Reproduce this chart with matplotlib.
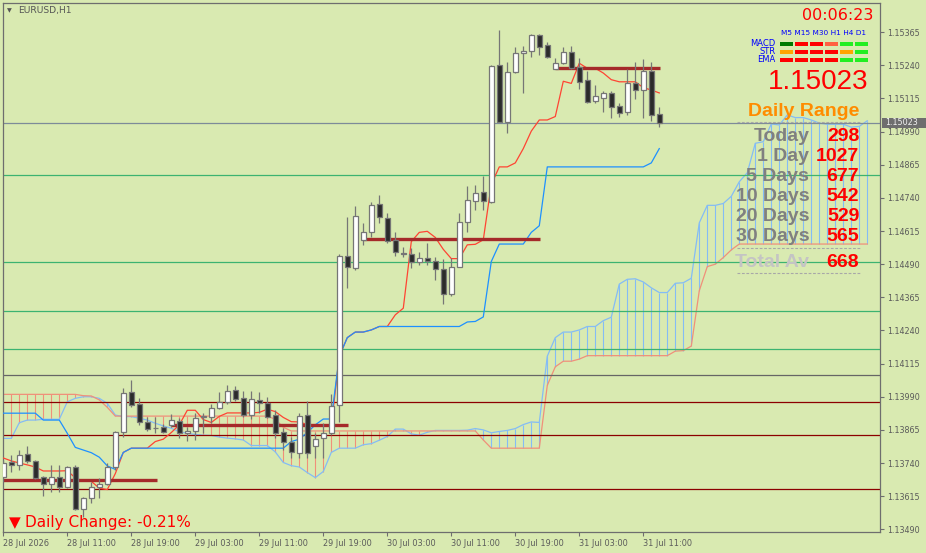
# -*- coding: utf-8 -*-
import numpy as np
import matplotlib
matplotlib.use("Agg")
import matplotlib.pyplot as plt
from matplotlib.patches import Rectangle
from matplotlib.transforms import blended_transform_factory

# ---- EURUSD H1 candles ----
opens = [1.13688, 1.13743, 1.13731, 1.13773, 1.13748, 1.13686, 1.13660, 1.13686, 1.13648, 1.13726,
         1.13565, 1.13607, 1.13651, 1.13660, 1.13724, 1.13856, 1.14007, 1.13962, 1.13894, 1.13873,
         1.13875, 1.13883, 1.13900, 1.13852, 1.13862, 1.13912, 1.13912, 1.13946, 1.13969, 1.14015,
         1.13984, 1.13920, 1.13978, 1.13968, 1.13921, 1.13856, 1.13820, 1.13779, 1.13920, 1.13805,
         1.13833, 1.13852, 1.13958, 1.14520, 1.14475, 1.14581, 1.14610, 1.14717, 1.14663, 1.14580,
         1.14532, 1.14528, 1.14499, 1.14512, 1.14502, 1.14471, 1.14376, 1.14481, 1.14648, 1.14730,
         1.14761, 1.14726, 1.15240, 1.15028, 1.15214, 1.15286, 1.15295, 1.15353, 1.15316, 1.15227,
         1.15248, 1.15289, 1.15235, 1.15184, 1.15104, 1.15118, 1.15135, 1.15087, 1.15065, 1.15173,
         1.15146, 1.15218, 1.15055]
highs = [1.13751, 1.13770, 1.13789, 1.13804, 1.13751, 1.13691, 1.13733, 1.13733, 1.13729, 1.13731,
         1.13613, 1.13670, 1.13685, 1.13741, 1.13862, 1.14022, 1.14053, 1.13984, 1.13915, 1.13915,
         1.13886, 1.13924, 1.13909, 1.13877, 1.13928, 1.13930, 1.13962, 1.14007, 1.14034, 1.14031,
         1.14012, 1.14012, 1.14008, 1.13990, 1.13940, 1.13871, 1.13839, 1.13928, 1.13974, 1.13852,
         1.13890, 1.13999, 1.14528, 1.14667, 1.14710, 1.14644, 1.14726, 1.14751, 1.14682, 1.14610,
         1.14556, 1.14550, 1.14537, 1.14569, 1.14516, 1.14511, 1.14514, 1.14682, 1.14785, 1.14789,
         1.14823, 1.15241, 1.15373, 1.15254, 1.15308, 1.15313, 1.15358, 1.15358, 1.15328, 1.15267,
         1.15308, 1.15313, 1.15269, 1.15219, 1.15166, 1.15143, 1.15143, 1.15097, 1.15227, 1.15253,
         1.15263, 1.15253, 1.15082]
lows = [1.13670, 1.13707, 1.13714, 1.13739, 1.13679, 1.13617, 1.13632, 1.13632, 1.13645, 1.13563,
        1.13538, 1.13588, 1.13607, 1.13657, 1.13714, 1.13839, 1.13952, 1.13883, 1.13862, 1.13852,
        1.13852, 1.13877, 1.13836, 1.13824, 1.13827, 1.13852, 1.13890, 1.13943, 1.13963, 1.13975,
        1.13915, 1.13906, 1.13929, 1.13910, 1.13833, 1.13789, 1.13758, 1.13758, 1.13758, 1.13758,
        1.13758, 1.13846, 1.13896, 1.14399, 1.14468, 1.14562, 1.14594, 1.14644, 1.14569, 1.14522,
        1.14516, 1.14477, 1.14487, 1.14487, 1.14430, 1.14340, 1.14371, 1.14478, 1.14610, 1.14694,
        1.14694, 1.14721, 1.15026, 1.14986, 1.15210, 1.15137, 1.15273, 1.15280, 1.15267, 1.15225,
        1.15245, 1.15225, 1.15151, 1.15099, 1.15099, 1.15064, 1.15043, 1.15045, 1.15053, 1.15114,
        1.15043, 1.15031, 1.15009]
closes = [1.13741, 1.13733, 1.13769, 1.13746, 1.13685, 1.13660, 1.13686, 1.13648, 1.13726, 1.13565,
          1.13607, 1.13651, 1.13660, 1.13724, 1.13856, 1.14003, 1.13959, 1.13894, 1.13867, 1.13871,
          1.13858, 1.13902, 1.13852, 1.13860, 1.13909, 1.13916, 1.13946, 1.13969, 1.14011, 1.13981,
          1.13921, 1.13980, 1.13965, 1.13915, 1.13852, 1.13820, 1.13783, 1.13916, 1.13777, 1.13830,
          1.13852, 1.13954, 1.14520, 1.14478, 1.14672, 1.14611, 1.14713, 1.14667, 1.14579, 1.14535,
          1.14530, 1.14497, 1.14512, 1.14501, 1.14471, 1.14376, 1.14481, 1.14648, 1.14731, 1.14760,
          1.14728, 1.15238, 1.15028, 1.15214, 1.15286, 1.15295, 1.15353, 1.15310, 1.15270, 1.15248,
          1.15289, 1.15231, 1.15178, 1.15101, 1.15123, 1.15136, 1.15084, 1.15061, 1.15175, 1.15146,
          1.15218, 1.15054, 1.15023]

# ---- Ichimoku lines ----
tenkan = [1.13759, 1.13748, 1.13740, 1.13733, 1.13725, 1.13710, 1.13710, 1.13710, 1.13711, 1.13684,
          1.13671, 1.13671, 1.13645, 1.13640, 1.13700, 1.13780, 1.13796, 1.13796, 1.13796, 1.13821,
          1.13830, 1.13855, 1.13884, 1.13939, 1.13939, 1.13904, 1.13893, 1.13916, 1.13929, 1.13929,
          1.13929, 1.13929, 1.13931, 1.13943, 1.13934, 1.13912, 1.13896, 1.13895, 1.13885, 1.13885,
          1.13883, 1.13879, 1.14143, 1.14213, 1.14234, 1.14234, 1.14242, 1.14255, 1.14255, 1.14299,
          1.14324, 1.14575, 1.14610, 1.14614, 1.14591, 1.14546, 1.14511, 1.14511, 1.14563, 1.14565,
          1.14582, 1.14791, 1.14857, 1.14857, 1.14872, 1.14926, 1.14992, 1.15034, 1.15034, 1.15047,
          1.15180, 1.15172, 1.15248, 1.15229, 1.15229, 1.15211, 1.15186, 1.15178, 1.15178, 1.15178,
          1.15156, 1.15147, 1.15136]
kijun = [1.13928, 1.13928, 1.13928, 1.13928, 1.13928, 1.13902, 1.13902, 1.13902, 1.13852, 1.13799,
         1.13789, 1.13779, 1.13762, 1.13729, 1.13716, 1.13780, 1.13796, 1.13796, 1.13796, 1.13796,
         1.13796, 1.13796, 1.13796, 1.13796, 1.13796, 1.13796, 1.13796, 1.13796, 1.13796, 1.13796,
         1.13796, 1.13796, 1.13796, 1.13796, 1.13796, 1.13796, 1.13821, 1.13830, 1.13855, 1.13884,
         1.13906, 1.13906, 1.14143, 1.14213, 1.14234, 1.14234, 1.14242, 1.14255, 1.14255, 1.14255,
         1.14255, 1.14255, 1.14255, 1.14255, 1.14255, 1.14255, 1.14255, 1.14255, 1.14272, 1.14274,
         1.14291, 1.14500, 1.14566, 1.14566, 1.14566, 1.14566, 1.14610, 1.14635, 1.14857, 1.14857,
         1.14857, 1.14857, 1.14857, 1.14857, 1.14857, 1.14857, 1.14857, 1.14857, 1.14857, 1.14857,
         1.14857, 1.14872, 1.14926]
# cloud, already shifted 26 bars forward
span_a = [1.13833, 1.13833, 1.13892, 1.13902, 1.13902, 1.13905, 1.13905, 1.13905, 1.13971, 1.13984,
          1.13990, 1.13990, 1.13984, 1.13965, 1.13921, 1.13915, 1.13915, 1.13909, 1.13902, 1.13890,
          1.13880, 1.13871, 1.13858, 1.13852, 1.13848, 1.13845, 1.13844, 1.13838, 1.13834, 1.13831,
          1.13827, 1.13806, 1.13806, 1.13806, 1.13782, 1.13742, 1.13730, 1.13725, 1.13704, 1.13685,
          1.13708, 1.13780, 1.13796, 1.13796, 1.13796, 1.13809, 1.13813, 1.13826, 1.13840, 1.13868,
          1.13868, 1.13850, 1.13845, 1.13856, 1.13863, 1.13863, 1.13863, 1.13863, 1.13864, 1.13870,
          1.13865, 1.13854, 1.13859, 1.13863, 1.13870, 1.13885, 1.13895, 1.13893, 1.14143, 1.14213,
          1.14234, 1.14234, 1.14242, 1.14255, 1.14255, 1.14277, 1.14290, 1.14415, 1.14433, 1.14435,
          1.14423, 1.14401, 1.14383, 1.14383, 1.14418, 1.14420, 1.14437, 1.14646, 1.14712, 1.14712,
          1.14719, 1.14746, 1.14801, 1.14835, 1.14946, 1.14952, 1.15019, 1.15015, 1.15053, 1.15043,
          1.15043, 1.15034, 1.15022, 1.15018, 1.15018, 1.15018, 1.15007, 1.15010, 1.15031]
span_b = [1.13999, 1.13999, 1.13999, 1.13999, 1.13999, 1.13999, 1.13999, 1.13999, 1.13999, 1.13999,
          1.13994, 1.13993, 1.13978, 1.13950, 1.13917, 1.13917, 1.13917, 1.13917, 1.13917, 1.13917,
          1.13917, 1.13917, 1.13917, 1.13917, 1.13917, 1.13917, 1.13917, 1.13917, 1.13917, 1.13917,
          1.13917, 1.13917, 1.13917, 1.13917, 1.13905, 1.13875, 1.13861, 1.13861, 1.13861, 1.13861,
          1.13861, 1.13861, 1.13861, 1.13861, 1.13861, 1.13861, 1.13861, 1.13861, 1.13861, 1.13861,
          1.13861, 1.13861, 1.13861, 1.13861, 1.13861, 1.13861, 1.13861, 1.13861, 1.13861, 1.13861,
          1.13827, 1.13796, 1.13796, 1.13796, 1.13796, 1.13796, 1.13796, 1.13796, 1.14033, 1.14103,
          1.14124, 1.14124, 1.14132, 1.14145, 1.14145, 1.14145, 1.14145, 1.14145, 1.14145, 1.14145,
          1.14145, 1.14145, 1.14145, 1.14145, 1.14162, 1.14164, 1.14181, 1.14390, 1.14481, 1.14490,
          1.14515, 1.14544, 1.14566, 1.14566, 1.14566, 1.14566, 1.14566, 1.14566, 1.14566, 1.14566,
          1.14566, 1.14566, 1.14566, 1.14566, 1.14566, 1.14566, 1.14566, 1.14566, 1.14566]

# horizontal levels
levels = [1.14825, 1.14497, 1.14312, 1.14169, 1.14071, 1.13969, 1.13845, 1.13641]
level_colors = ['#3CB371', '#3CB371', '#3CB371', '#3CB371', '#666666', '#8B0000', '#8B0000', '#8B0000']

# daily open segments (bar index from/to)
day_start = [0, 21, 45, 69]
day_end = [19.2, 43.1, 67.1, 82.1]
day_open = [1.13676, 1.13882, 1.14584, 1.15229]

price_ticks = [1.13490, 1.13615, 1.13740, 1.13865, 1.13990, 1.14115, 1.14240, 1.14365,
               1.14490, 1.14615, 1.14740, 1.14865, 1.14990, 1.15115, 1.15240, 1.15365]
time_ticks = [0, 8, 16, 24, 32, 40, 48, 56, 64, 72, 80]
time_labels = ['28 Jul 2026', '28 Jul 11:00', '28 Jul 19:00', '29 Jul 03:00', '29 Jul 11:00',
               '29 Jul 19:00', '30 Jul 03:00', '30 Jul 11:00', '30 Jul 19:00', '31 Jul 03:00',
               '31 Jul 11:00']

# info panel
symbol = 'EURUSD,H1'
clock = '00:06:23'
tf_names = ['M5', 'M15', 'M30', 'H1', 'H4', 'D1']
signal_rows = ['MACD', 'STR', 'EMA']
signal_colors = [['#007A00', '#FF0000', '#FF0000', '#FF6040', '#22EE22', '#22EE22'],
                 ['#FFA500', '#FF0000', '#FF0000', '#FF0000', '#FFA500', '#22EE22'],
                 ['#FF0000', '#FF0000', '#FF0000', '#FF0000', '#22EE22', '#22EE22']]
range_names = ['Today', '1 Day', '5 Days', '10 Days', '20 Days', '30 Days']
range_values = [298, 1027, 677, 542, 529, 565]
total_av = 668
daily_change = -0.21

# ---- style ----
BG = '#D9EAB1'
FRAME = '#6E6E6E'
EDGE = '#767676'
TXT = '#5A5A5A'
C_TENKAN = '#FF4433'
C_KIJUN = '#1E90FF'
C_SPAN_A = '#84BCF5'
C_SPAN_B = '#F0907A'
plt.rcParams['font.family'] = ['DejaVu Sans']

W, H = 926, 553
fig = plt.figure(figsize=(W / 100, H / 100), dpi=100, facecolor=BG)
ax = fig.add_axes([2.5 / W, (H - 532.3) / H, 877.5 / W, 529.8 / H])
ax.set_facecolor(BG)

n = len(opens)
xs = np.arange(n)
xc = np.arange(len(span_a))
a = np.array(span_a)
b = np.array(span_b)

# cloud hatch
up = a >= b
ax.vlines(xc[up], b[up], a[up], colors=C_SPAN_A, lw=0.8, zorder=1)
ax.vlines(xc[~up], a[~up], b[~up], colors=C_SPAN_B, lw=0.8, zorder=1)
ax.plot(xc, a, color=C_SPAN_A, lw=0.9, zorder=2)
ax.plot(xc, b, color=C_SPAN_B, lw=0.9, zorder=2)

for p, c in zip(levels, level_colors):
    ax.axhline(p, color=c, lw=0.9, zorder=2)
ax.axhline(closes[-1], color='#7D8B99', lw=0.9, zorder=2)

ax.plot(xs, tenkan, color=C_TENKAN, lw=0.9, zorder=3)
ax.plot(xs, kijun, color=C_KIJUN, lw=0.9, zorder=3)

for s, e, p in zip(day_start, day_end, day_open):
    ax.plot([s, e], [p, p], color='#A52A2A', lw=2.4, solid_capstyle='butt', zorder=3)

# candles
ax.vlines(xs, lows, highs, color=EDGE, lw=0.9, zorder=4)
for i in range(n):
    o, c = opens[i], closes[i]
    face = 'white' if c >= o else '#2B2B2B'
    ax.add_patch(Rectangle((i - 0.28, min(o, c)), 0.56, abs(c - o),
                           facecolor=face, edgecolor=EDGE, lw=0.9, zorder=5))

ax.set_xlim(-0.1, 109.59)
ax.set_ylim(1.134787, 1.154771)

ax.yaxis.tick_right()
ax.set_yticks(price_ticks)
ax.set_yticklabels(['%.5f' % t for t in price_ticks])
ax.set_xticks(time_ticks)
ax.set_xticklabels(time_labels)
for lbl in ax.get_xticklabels():
    lbl.set_horizontalalignment('left')
ax.tick_params(axis='y', length=3, width=0.8, color=FRAME, labelsize=5.8,
               labelcolor=TXT, pad=2.5)
ax.tick_params(axis='x', length=3, width=0.8, color=FRAME, labelsize=5.9,
               labelcolor=TXT, pad=1.5)
for sp in ax.spines.values():
    sp.set_color(FRAME)
    sp.set_linewidth(0.9)

# current price tag on the price scale
tr = blended_transform_factory(ax.transAxes, ax.transData)
dy = 5.3 * (1.154771 - 1.134787) / 529.8
ax.add_patch(Rectangle((1.002, closes[-1] - dy), 50 / 877.5, 2 * dy, transform=tr,
                       facecolor=FRAME, edgecolor='none', clip_on=False, zorder=9))
ax.text(1.0 + 5.5 / 877.5, closes[-1], '%.5f' % closes[-1], transform=tr, ha='left',
        va='center', fontsize=5.8, color='#F2F2F2', clip_on=False, zorder=10)

# ---- overlay in pixel units for the info texts ----
ov = fig.add_axes([0, 0, 1, 1], facecolor='none')
ov.set_xlim(0, W)
ov.set_ylim(H, 0)
ov.axis('off')

ov.text(9.5, 10.8, '▼', fontsize=4.5, color='#555555', ha='center', va='center')
ov.text(18, 10.8, symbol, fontsize=6.6, color='#555555', va='center')
ov.text(873.5, 19.5, clock, fontsize=11.5, color='#FF0000', ha='right', va='baseline')

ov.text(781, 32.7, ' '.join(tf_names), fontsize=5.3, color='#0000FF', va='center')
for r, name in enumerate(signal_rows):
    y0 = 41.7 + 8 * r
    ov.text(775.5, y0 + 2, name, fontsize=6, color='#0000FF', ha='right', va='center')
    for k, col in enumerate(signal_colors[r]):
        ov.add_patch(Rectangle((780 + 15 * k, y0), 13.3, 4, facecolor=col, edgecolor='none'))

ov.text(868.3, 89.3, '%.5f' % closes[-1], fontsize=20, color='#FF0000', ha='right',
        va='baseline', family='Liberation Sans')
ov.text(859, 115.7, 'Daily Range', fontsize=14, fontweight='bold', color='#FF8C00',
        ha='right', va='baseline', family='Liberation Sans')
for y in (121.7, 247.7, 273.3):
    ov.plot([737, 860], [y, y], color='#A8A8A8', lw=0.8, dashes=(2.5, 1.5))
for k, (name, val) in enumerate(zip(range_names, range_values)):
    yb = 140.7 + 20 * k
    ov.text(809.3, yb, name, fontsize=14, fontweight='bold', color='#808080', ha='right',
            va='baseline', family='Liberation Sans')
    ov.text(859.3, yb, str(val), fontsize=14, fontweight='bold', color='#FF0000', ha='right',
            va='baseline', family='Liberation Sans')
ov.text(809.3, 267.3, 'Total Av', fontsize=14, fontweight='bold', color='#C4C4C4', ha='right',
        va='baseline', family='Liberation Sans')
ov.text(859.3, 267.3, str(total_av), fontsize=14, fontweight='bold', color='#FF0000', ha='right',
        va='baseline', family='Liberation Sans')

ov.text(9, 526.7, '▼', fontsize=11, color='#FF0000', va='baseline')
ov.text(25, 526.7, 'Daily Change: %.2f%%' % daily_change, fontsize=11, color='#FF0000',
        va='baseline')

fig.savefig('out.png', dpi=100, facecolor=BG)
